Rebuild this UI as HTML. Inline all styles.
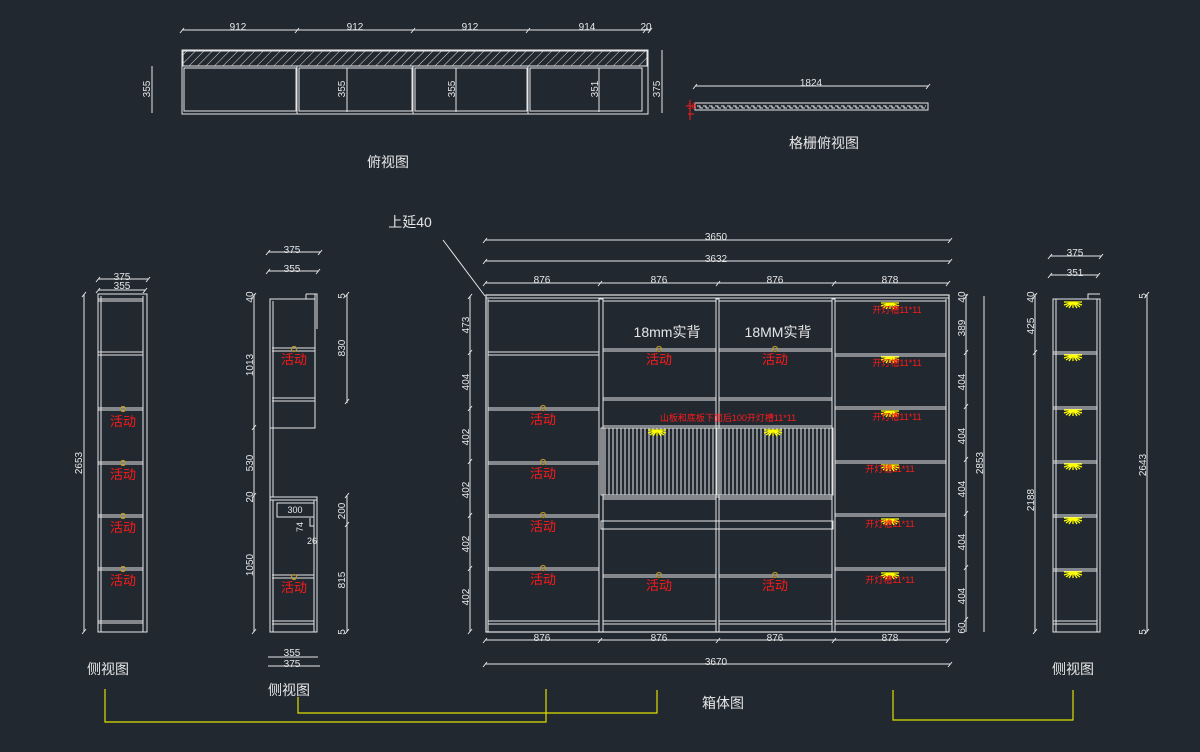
<!DOCTYPE html>
<html><head><meta charset="utf-8"><style>
html,body{margin:0;padding:0;background:#212830;}
svg{display:block}
text{font-family:"Liberation Sans","Noto Sans CJK SC",sans-serif;}
</style></head><body>
<svg width="1200" height="752" viewBox="0 0 1200 752" xmlns="http://www.w3.org/2000/svg">
<defs>
<pattern id="hatch" width="6" height="6" patternUnits="userSpaceOnUse" patternTransform="rotate(45)"><line x1="0" y1="0" x2="0" y2="6" stroke="#ddd" stroke-width="1"/></pattern>
<pattern id="grille" width="4" height="70" patternUnits="userSpaceOnUse"><line x1="1" y1="0" x2="1" y2="70" stroke="#e8e8e8" stroke-width="1"/></pattern>
<pattern id="zig" x="697" y="104" width="6" height="6" patternUnits="userSpaceOnUse"><path d="M0,2 h3 v2 h3" stroke="#e6e6e6" fill="none" stroke-width="1"/></pattern>
<g id="light"><path d="M-9,0 H9 M0,0 V6 M0,0 L-7,5 M0,0 L7,5 M0,0 L-4,6 M0,0 L4,6 M0,0 L-9,3 M0,0 L9,3" stroke="#ffff00" stroke-width="1.3"/></g>
<g id="pin"><circle r="2.5" fill="none" stroke="#b8942a" stroke-width="1.2"/></g>
</defs>
<rect width="1200" height="752" fill="#212830"/>

<g stroke="#e6e6e6" fill="none" stroke-width="1">
<!-- TOP VIEW -->
<line x1="182" y1="30" x2="650" y2="30"/>
<path d="M180,33 l4,-5 M295,33 l4,-5 M411,33 l4,-5 M526,33 l4,-5 M643,33 l4,-5 M648,33 l4,-5"/>
<rect x="182" y="50" width="466" height="64"/>
<rect x="183" y="51" width="464" height="15" fill="url(#hatch)"/>
<line x1="182" y1="66" x2="648" y2="66"/>
<rect x="184" y="68" width="112" height="43"/>
<rect x="299" y="68" width="113" height="43"/>
<rect x="415" y="68" width="112" height="43"/>
<rect x="530" y="68" width="112" height="43"/>
<line x1="347" y1="68" x2="347" y2="112"/><line x1="456" y1="68" x2="456" y2="112"/><line x1="599" y1="68" x2="599" y2="112"/>
<line x1="297" y1="66" x2="297" y2="114"/><line x1="413" y1="66" x2="413" y2="114"/><line x1="528" y1="66" x2="528" y2="114"/>
<line x1="662" y1="50" x2="662" y2="113"/><line x1="152" y1="66" x2="152" y2="113"/>

<!-- GRILLE -->
<line x1="695" y1="86" x2="928" y2="86"/>
<path d="M693,89 l4,-5 M926,89 l4,-5"/>
<path d="M695,103 H928 V110 H695 Z"/>
<rect x="697" y="104" width="229" height="6" fill="url(#zig)" stroke="none"/>

<!-- SIDE VIEW 1 -->
<line x1="98" y1="279" x2="148" y2="279"/><line x1="98" y1="290" x2="145" y2="290"/>
<path d="M96,282 l4,-5 M146,282 l4,-5 M96,293 l4,-5 M143,293 l4,-5"/>
<rect x="98" y="294" width="49" height="338"/>
<line x1="101" y1="296" x2="101" y2="632"/><line x1="143" y1="296" x2="143" y2="632"/>
<line x1="98" y1="299" x2="143" y2="299"/><line x1="98" y1="301" x2="143" y2="301"/>
<line x1="98" y1="352" x2="143" y2="352"/><line x1="98" y1="355" x2="143" y2="355"/>
<line x1="98" y1="408" x2="143" y2="408"/><line x1="98" y1="410" x2="143" y2="410"/>
<line x1="98" y1="462" x2="143" y2="462"/><line x1="98" y1="464" x2="143" y2="464"/>
<line x1="98" y1="515" x2="143" y2="515"/><line x1="98" y1="517" x2="143" y2="517"/>
<line x1="98" y1="568" x2="143" y2="568"/><line x1="98" y1="570" x2="143" y2="570"/>
<line x1="98" y1="621" x2="143" y2="621"/><line x1="98" y1="623" x2="143" y2="623"/>
<line x1="84" y1="294" x2="84" y2="632"/><path d="M82,297 l4,-5 M82,634 l4,-5"/>

<!-- SIDE VIEW 2 -->
<line x1="268" y1="252" x2="320" y2="252"/><line x1="268" y1="271" x2="318" y2="271"/>
<path d="M266,255 l4,-5 M318,255 l4,-5 M266,274 l4,-5 M316,274 l4,-5"/>
<line x1="268" y1="657" x2="318" y2="657"/><line x1="268" y1="666" x2="320" y2="666"/>
<path d="M306,294 h11 v35 M306,294 v5"/>
<rect x="270" y="299" width="45" height="129"/>
<line x1="273" y1="301" x2="273" y2="428"/><line x1="315" y1="294" x2="315" y2="400"/>
<line x1="272" y1="348" x2="315" y2="348"/><line x1="272" y1="351" x2="315" y2="351"/>
<line x1="272" y1="398" x2="315" y2="398"/><line x1="272" y1="401" x2="315" y2="401"/>
<line x1="270" y1="428" x2="270" y2="497"/><line x1="273" y1="428" x2="273" y2="497"/>
<rect x="270" y="497" width="47" height="135"/>
<line x1="270" y1="500" x2="317" y2="500"/>
<line x1="273" y1="500" x2="273" y2="632"/><line x1="314" y1="500" x2="314" y2="632"/>
<rect x="277" y="503" width="37" height="14"/>
<path d="M310,518 v8 h4 v4"/>
<line x1="272" y1="575" x2="314" y2="575"/><line x1="272" y1="578" x2="314" y2="578"/>
<line x1="272" y1="621" x2="314" y2="621"/><line x1="272" y1="624" x2="314" y2="624"/>
<line x1="254" y1="294" x2="254" y2="632"/>
<path d="M252,298 l4,-5 M252,430 l4,-5 M252,498 l4,-5 M252,634 l4,-5"/>
<line x1="347" y1="294" x2="347" y2="403"/><line x1="347" y1="496" x2="347" y2="632"/>
<path d="M345,297 l4,-5 M345,404 l4,-5 M345,498 l4,-5 M345,527 l4,-5 M345,634 l4,-5"/>

<!-- MAIN CABINET -->
<line x1="485" y1="240" x2="950" y2="240"/><line x1="485" y1="261" x2="950" y2="261"/>
<line x1="485" y1="283" x2="948" y2="283"/>
<path d="M483,243 l4,-5 M948,243 l4,-5 M483,264 l4,-5 M948,264 l4,-5 M483,286 l4,-5 M598,286 l4,-5 M716,286 l4,-5 M832,286 l4,-5 M946,286 l4,-5"/>
<line x1="485" y1="640" x2="948" y2="640"/><line x1="485" y1="664" x2="950" y2="664"/>
<path d="M483,643 l4,-5 M598,643 l4,-5 M716,643 l4,-5 M832,643 l4,-5 M946,643 l4,-5 M483,667 l4,-5 M948,667 l4,-5"/>
<line x1="443" y1="240" x2="485" y2="296"/>
<rect x="486" y="295" width="463" height="337" stroke-width="1.2"/>
<line x1="486" y1="298" x2="949" y2="298"/>
<rect x="599" y="299" width="4" height="333"/>
<rect x="716" y="299" width="3" height="333"/>
<rect x="832" y="299" width="3" height="333"/>
<line x1="488" y1="299" x2="488" y2="632"/><line x1="946" y1="299" x2="946" y2="632"/>
<path d="M488,301 H599 M488,352 H599 M488,355 H599 M488,408 H599 M488,410 H599 M488,462 H599 M488,464 H599 M488,515 H599 M488,517 H599 M488,568 H599 M488,570 H599 M488,621 H599 M488,624 H599"/>
<path d="M603,301 H716 M719,301 H832 M603,349 H716 M603,351 H716 M719,349 H832 M719,351 H832 M603,398 H716 M603,400 H716 M719,398 H832 M719,400 H832 M603,426 H832"/>
<rect x="601" y="428" width="232" height="67" fill="url(#grille)"/>
<path d="M603,497 H832 M603,499 H716 M719,499 H832 M601,521 H833 V529 H601 Z M603,575 H716 M603,577 H716 M719,575 H832 M719,577 H832 M603,621 H716 M603,624 H716 M719,621 H832 M719,624 H832"/>
<path d="M835,301 H946 M835,354 H946 M835,356 H946 M835,407 H946 M835,409 H946 M835,461 H946 M835,463 H946 M835,514 H946 M835,516 H946 M835,568 H946 M835,570 H946 M835,621 H946 M835,624 H946"/>
<line x1="470" y1="296" x2="470" y2="632"/>
<path d="M468,299 l4,-5 M468,355 l4,-5 M468,411 l4,-5 M468,464 l4,-5 M468,518 l4,-5 M468,571 l4,-5 M468,634 l4,-5"/>
<line x1="966" y1="294" x2="966" y2="632"/>
<path d="M964,299 l4,-5 M964,355 l4,-5 M964,409 l4,-5 M964,462 l4,-5 M964,516 l4,-5 M964,570 l4,-5 M964,622 l4,-5"/>
<line x1="984" y1="296" x2="984" y2="632"/>

<!-- RIGHT SIDE VIEW -->
<line x1="1050" y1="256" x2="1101" y2="256"/><line x1="1050" y1="275" x2="1098" y2="275"/>
<path d="M1048,259 l4,-5 M1099,259 l4,-5 M1048,278 l4,-5 M1096,278 l4,-5"/>
<path d="M1088,299 v-5 h12"/>
<rect x="1053" y="299" width="47" height="333"/>
<line x1="1056" y1="299" x2="1056" y2="632"/><line x1="1097" y1="299" x2="1097" y2="632"/>
<path d="M1053,352 H1097 M1053,354 H1097 M1053,407 H1097 M1053,409 H1097 M1053,461 H1097 M1053,463 H1097 M1053,515 H1097 M1053,517 H1097 M1053,569 H1097 M1053,571 H1097 M1053,621 H1097 M1053,624 H1097"/>
<line x1="1035" y1="294" x2="1035" y2="632"/>
<path d="M1033,298 l4,-5 M1033,355 l4,-5 M1033,634 l4,-5"/>
<line x1="1147" y1="294" x2="1147" y2="632"/>
<path d="M1145,297 l4,-5 M1145,634 l4,-5"/>
</g>

<g stroke="#e0e000" fill="none" stroke-width="1.2">
<path d="M105,689 V722 H546 V689"/>
<path d="M298,697 V713 H657 V690"/>
<path d="M893,690 V720 H1073 V690"/>
</g>

<use href="#light" x="890" y="303"/><use href="#light" x="890" y="357"/><use href="#light" x="890" y="411"/><use href="#light" x="890" y="465"/><use href="#light" x="890" y="519"/><use href="#light" x="890" y="573"/>
<use href="#light" x="657" y="430"/><use href="#light" x="773" y="430"/>
<use href="#light" x="1073" y="302"/><use href="#light" x="1073" y="355"/><use href="#light" x="1073" y="410"/><use href="#light" x="1073" y="464"/><use href="#light" x="1073" y="518"/><use href="#light" x="1073" y="572"/>
<use href="#pin" x="543" y="408"/><use href="#pin" x="543" y="462"/><use href="#pin" x="543" y="515"/><use href="#pin" x="543" y="568"/>
<use href="#pin" x="659" y="349"/><use href="#pin" x="775" y="349"/><use href="#pin" x="659" y="575"/><use href="#pin" x="775" y="575"/>
<use href="#pin" x="123" y="409"/><use href="#pin" x="123" y="463"/><use href="#pin" x="123" y="516"/><use href="#pin" x="123" y="569"/>
<use href="#pin" x="294" y="349"/><use href="#pin" x="294" y="577"/>

<g fill="#e6e6e6" font-size="10" text-anchor="middle">
<text x="238" y="30">912</text><text x="355" y="30">912</text><text x="470" y="30">912</text><text x="587" y="30">914</text><text x="646" y="30">20</text>
<text transform="translate(150,89) rotate(-90)">355</text>
<text transform="translate(345,89) rotate(-90)">355</text>
<text transform="translate(455,89) rotate(-90)">355</text>
<text transform="translate(598,89) rotate(-90)">351</text>
<text transform="translate(660,89) rotate(-90)">375</text>
<text x="811" y="86">1824</text>
<text x="122" y="280">375</text><text x="122" y="289">355</text>
<text transform="translate(82,463) rotate(-90)">2653</text>
<text x="292" y="253">375</text><text x="292" y="272">355</text>
<text x="292" y="656">355</text><text x="292" y="667">375</text>
<text transform="translate(253,297) rotate(-90)">40</text>
<text transform="translate(253,365) rotate(-90)">1013</text>
<text transform="translate(253,463) rotate(-90)">530</text>
<text transform="translate(253,497) rotate(-90)">20</text>
<text transform="translate(253,565) rotate(-90)">1050</text>
<text transform="translate(345,296) rotate(-90)">5</text>
<text transform="translate(345,348) rotate(-90)">830</text>
<text transform="translate(345,511) rotate(-90)">200</text>
<text transform="translate(345,580) rotate(-90)">815</text>
<text transform="translate(345,632) rotate(-90)">5</text>
<text x="295" y="513" font-size="9">300</text>
<text transform="translate(303,527) rotate(-90)" font-size="9">74</text>
<text x="312" y="544" font-size="9">26</text>
<text x="716" y="240">3650</text><text x="716" y="262">3632</text>
<text x="542" y="283">876</text><text x="659" y="283">876</text><text x="775" y="283">876</text><text x="890" y="283">878</text>
<text x="542" y="641">876</text><text x="659" y="641">876</text><text x="775" y="641">876</text><text x="890" y="641">878</text>
<text x="716" y="665">3670</text>
<text transform="translate(469,325) rotate(-90)">473</text>
<text transform="translate(469,382) rotate(-90)">404</text>
<text transform="translate(469,437) rotate(-90)">402</text>
<text transform="translate(469,490) rotate(-90)">402</text>
<text transform="translate(469,544) rotate(-90)">402</text>
<text transform="translate(469,597) rotate(-90)">402</text>
<text transform="translate(965,297) rotate(-90)">40</text>
<text transform="translate(965,328) rotate(-90)">389</text>
<text transform="translate(965,382) rotate(-90)">404</text>
<text transform="translate(965,436) rotate(-90)">404</text>
<text transform="translate(965,489) rotate(-90)">404</text>
<text transform="translate(965,542) rotate(-90)">404</text>
<text transform="translate(965,596) rotate(-90)">404</text>
<text transform="translate(965,628) rotate(-90)">60</text>
<text transform="translate(983,463) rotate(-90)">2853</text>
<text x="1075" y="256">375</text><text x="1075" y="276">351</text>
<text transform="translate(1034,297) rotate(-90)">40</text>
<text transform="translate(1034,326) rotate(-90)">425</text>
<text transform="translate(1034,500) rotate(-90)">2188</text>
<text transform="translate(1146,296) rotate(-90)">5</text>
<text transform="translate(1146,465) rotate(-90)">2643</text>
<text transform="translate(1146,632) rotate(-90)">5</text>
</g>
<g fill="#e6e6e6" font-size="14" text-anchor="middle">
<text x="388" y="167">俯视图</text>
<text x="824" y="148">格栅俯视图</text>
<text x="410" y="227">上延40</text>
<text x="108" y="674">侧视图</text>
<text x="289" y="695">侧视图</text>
<text x="1073" y="674">侧视图</text>
<text x="723" y="708">箱体图</text>
<text x="667" y="337">18mm实背</text>
<text x="778" y="337">18MM实背</text>
</g>
<g fill="#ff1a1a" font-size="13" text-anchor="middle">
<text x="543" y="424">活动</text><text x="543" y="478">活动</text><text x="543" y="531">活动</text><text x="543" y="584">活动</text>
<text x="659" y="364">活动</text><text x="775" y="364">活动</text><text x="659" y="590">活动</text><text x="775" y="590">活动</text>
<text x="123" y="426">活动</text><text x="123" y="479">活动</text><text x="123" y="532">活动</text><text x="123" y="585">活动</text>
<text x="294" y="364">活动</text><text x="294" y="592">活动</text>
</g>
<g fill="#ff1a1a" font-size="9" text-anchor="middle">
<text x="897" y="313">开灯槽11*11</text><text x="897" y="366">开灯槽11*11</text><text x="897" y="420">开灯槽11*11</text>
<text x="890" y="472">开灯槽11*11</text><text x="890" y="527">开灯槽11*11</text><text x="890" y="583">开灯槽11*11</text>
<text x="728" y="421">山板和底板下面后100开灯槽11*11</text>
<text x="692" y="109" font-size="8">18</text>
</g>
<path d="M690,100 v20 M686,106 h8 M688,114 h6" stroke="#ff1a1a" fill="none"/>
</svg>
</body></html>
